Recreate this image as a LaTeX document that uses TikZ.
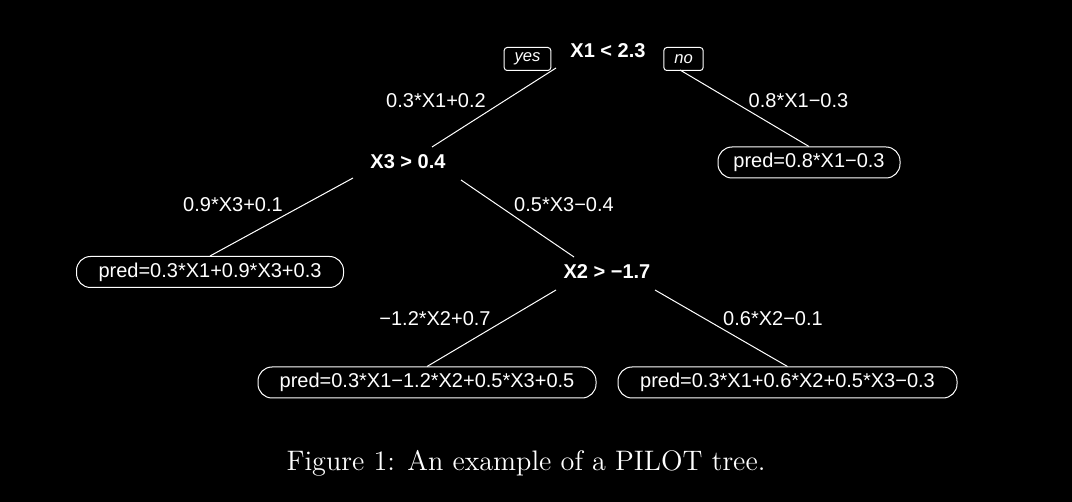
\documentclass[tikz,border=0pt]{standalone}
\usepackage{fontspec}
\newfontfamily\hv{Liberation Sans}
\begin{document}
\begin{tikzpicture}[x=0.5pt,y=-0.5pt,
  split/.style={font=\hv\bfseries\fontsize{10}{12}\selectfont, text=white, inner sep=0pt},
  elab/.style={font=\hv\fontsize{10}{12}\selectfont, text=white, inner sep=0pt},
  leaf/.style={draw=white, line width=0.5pt, rounded corners=7pt, text=white,
    font=\hv\fontsize{10}{12}\selectfont, minimum height=15.5pt, inner xsep=7pt, inner ysep=0pt},
  tag/.style={draw=white, line width=0.5pt, rounded corners=1.5pt, text=white,
    font=\hv\itshape\fontsize{8.3}{10}\selectfont, minimum height=11.5pt, inner xsep=5.2pt, inner ysep=0pt},
  edge/.style={draw=white, line width=0.5pt}]
\fill[black] (0,0) rectangle (1072,502);
\useasboundingbox (0,0) rectangle (1072,502);

% split nodes
\node[split] (root) at (608,51) {X1 < 2.3};
\node[tag] (yes) at (527.5,59) {yes};
\node[tag] (no) at (683.5,59) {no};
\node[split] (x3) at (408,162) {X3 > 0.4};
\node[split] (x2) at (607,272) {X2 > \char"2212 1.7};

% leaves
\node[leaf, minimum width=91pt] (r1) at (809,162.5) {pred=0.8*X1\char"2212 0.3};
\node[leaf, minimum width=133.5pt] (l1) at (210,272) {pred=0.3*X1+0.9*X3+0.3};
\node[leaf, minimum width=169pt] (ll) at (427,382.5) {pred=0.3*X1\char"2212 1.2*X2+0.5*X3+0.5};
\node[leaf, minimum width=169.5pt] (lr) at (787.5,382.5) {pred=0.3*X1+0.6*X2+0.5*X3\char"2212 0.3};

% edge labels
\node[elab] (ea) at (436,101) {0.3*X1+0.2};
\node[elab] (eb) at (798.5,101) {0.8*X1\char"2212 0.3};
\node[elab] (ec) at (233,205) {0.9*X3+0.1};
\node[elab] (ed) at (564,205) {0.5*X3\char"2212 0.4};
\node[elab] (ee) at (435,319) {\char"2212 1.2*X2+0.7};
\node[elab] (ef) at (773,319) {0.6*X2\char"2212 0.1};

% connector end points
\coordinate (rootL) at (556,68);
\coordinate (rootR) at (680,70);
\coordinate (x3T) at (432,147);
\coordinate (x3L) at (353,178);
\coordinate (x3R) at (461,180);
\coordinate (x2T) at (574,257);
\coordinate (x2L) at (556,290);
\coordinate (x2R) at (655,290);

\draw[edge] (rootL) -- (x3T);
\draw[edge] (rootR) -- (r1.north);
\draw[edge] (x3L) -- (l1.north);
\draw[edge] (x3R) -- (x2T);
\draw[edge] (x2L) -- (ll.north);
\draw[edge] (x2R) -- (lr.north);

% caption
\node[text=white, font=\fontsize{14.1}{17}\selectfont, inner sep=0pt] (cap) at (526,463) {Figure 1: An example of a PILOT tree.};
\end{tikzpicture}
\end{document}
